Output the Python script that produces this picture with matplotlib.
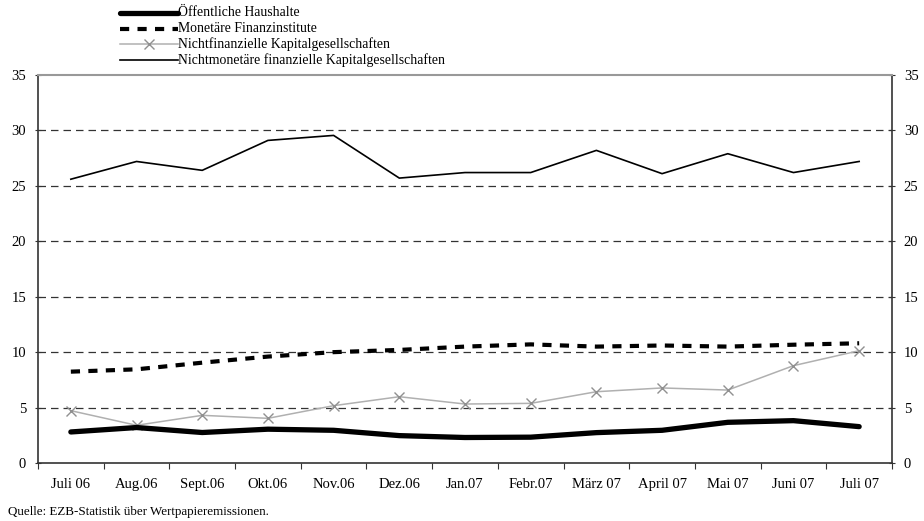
import matplotlib
matplotlib.use("Agg")
import matplotlib.pyplot as plt
from matplotlib.lines import Line2D
import numpy as np

plt.rcParams['font.family'] = ['Liberation Serif', 'DejaVu Serif']

months = ["Juli 06", "Aug.06", "Sept.06", "Okt.06", "Nov.06", "Dez.06", "Jan.07",
          "Febr.07", "März 07", "April 07", "Mai 07", "Juni 07", "Juli 07"]
oeffentliche = [2.8, 3.2, 2.75, 3.05, 2.95, 2.47, 2.3, 2.33, 2.74, 2.95, 3.67, 3.82, 3.28]
monetaere = [8.24, 8.45, 9.05, 9.6, 10.0, 10.2, 10.5, 10.7, 10.5, 10.6, 10.5, 10.67, 10.8]
nichtfin = [4.72, 3.4, 4.3, 4.03, 5.17, 5.98, 5.32, 5.38, 6.43, 6.77, 6.58, 8.78, 10.13]
nichtmon = [25.6, 27.2, 26.4, 29.1, 29.55, 25.7, 26.2, 26.2, 28.2, 26.1, 27.9, 26.2, 27.2]
labels = ["Öffentliche Haushalte", "Monetäre Finanzinstitute",
          "Nichtfinanzielle Kapitalgesellschaften",
          "Nichtmonetäre finanzielle Kapitalgesellschaften"]
source = "Quelle: EZB-Statistik über Wertpapieremissionen."

W, H = 924, 521
fig = plt.figure(figsize=(W / 100, H / 100), dpi=100)
x0, x1, yb, yt = 38, 892, 463, 75
ax = fig.add_axes([x0 / W, 1 - yb / H, (x1 - x0) / W, (yb - yt) / H])

x = np.arange(len(months))
ax.set_xlim(-0.5, len(months) - 0.5)
ax.set_ylim(0, 35)

for v in [5, 10, 15, 20, 25, 30]:
    ax.axhline(v, color="#333333", lw=0.9, ls=(0, (6, 4)), zorder=1)

ax.plot(x, nichtmon, color="black", lw=1.2, zorder=3)
ax.plot(x, nichtfin, color="#b0b0b0", lw=1.1, marker="x", ms=6.5, mew=1.0,
        mec="#909090", zorder=3)
ax.plot(x, monetaere, color="black", lw=3, ls=(0, (2.2, 2.0)), zorder=3,
        solid_capstyle="butt", dash_capstyle="butt")
ax.plot(x, oeffentliche, color="black", lw=3.8, zorder=4, solid_capstyle="round")

ax.set_xticks(np.arange(len(months) + 1) - 0.5)
ax.set_xticklabels([])
ax.set_xticks(x, minor=True)
ax.set_xticklabels(months, minor=True, fontsize=10.5)
ax.tick_params(axis="x", which="minor", length=0, pad=11)
ax.tick_params(axis="x", which="major", length=4, direction="out", color="#333333")

ax.set_yticks(np.arange(0, 36, 5))
ax.tick_params(axis="y", which="major", length=5, direction="inout", labelsize=10.5,
               left=True, right=True, labelleft=True, labelright=True, pad=6,
               color="#333333")
for s in ["left", "right", "bottom"]:
    ax.spines[s].set_color("#333333")
    ax.spines[s].set_linewidth(1.2)
ax.spines["top"].set_color("#999999")
ax.spines["top"].set_linewidth(1.5)

# legend drawn in figure pixel coordinates
def fx(px):
    return px / W

def fy(py):
    return 1 - py / H

rows = [13, 28.5, 44, 60]
lx0, lx1, tx = 120, 178, 178
fig.add_artist(Line2D([fx(lx0), fx(lx1)], [fy(rows[0])] * 2, color="black", lw=3.8,
                      solid_capstyle="round"))
fig.add_artist(Line2D([fx(lx0), fx(lx1)], [fy(rows[1])] * 2, color="black", lw=3,
                      ls=(0, (2.2, 2.0)), dash_capstyle="butt"))
fig.add_artist(Line2D([fx(lx0), fx(lx1)], [fy(rows[2])] * 2, color="#b0b0b0", lw=1.1))
fig.add_artist(Line2D([fx((lx0 + lx1) / 2)], [fy(rows[2])], color="#909090", marker="x",
                      ms=6.5, mew=1.0, ls="none"))
fig.add_artist(Line2D([fx(lx0), fx(lx1)], [fy(rows[3])] * 2, color="black", lw=1.2))
for r, lab in zip(rows, labels):
    fig.text(fx(tx), fy(r), lab, fontsize=9.9, va="center", ha="left")

fig.text(fx(8), fy(512), source, fontsize=9.4, va="center", ha="left")

fig.savefig("out.png", dpi=100)
